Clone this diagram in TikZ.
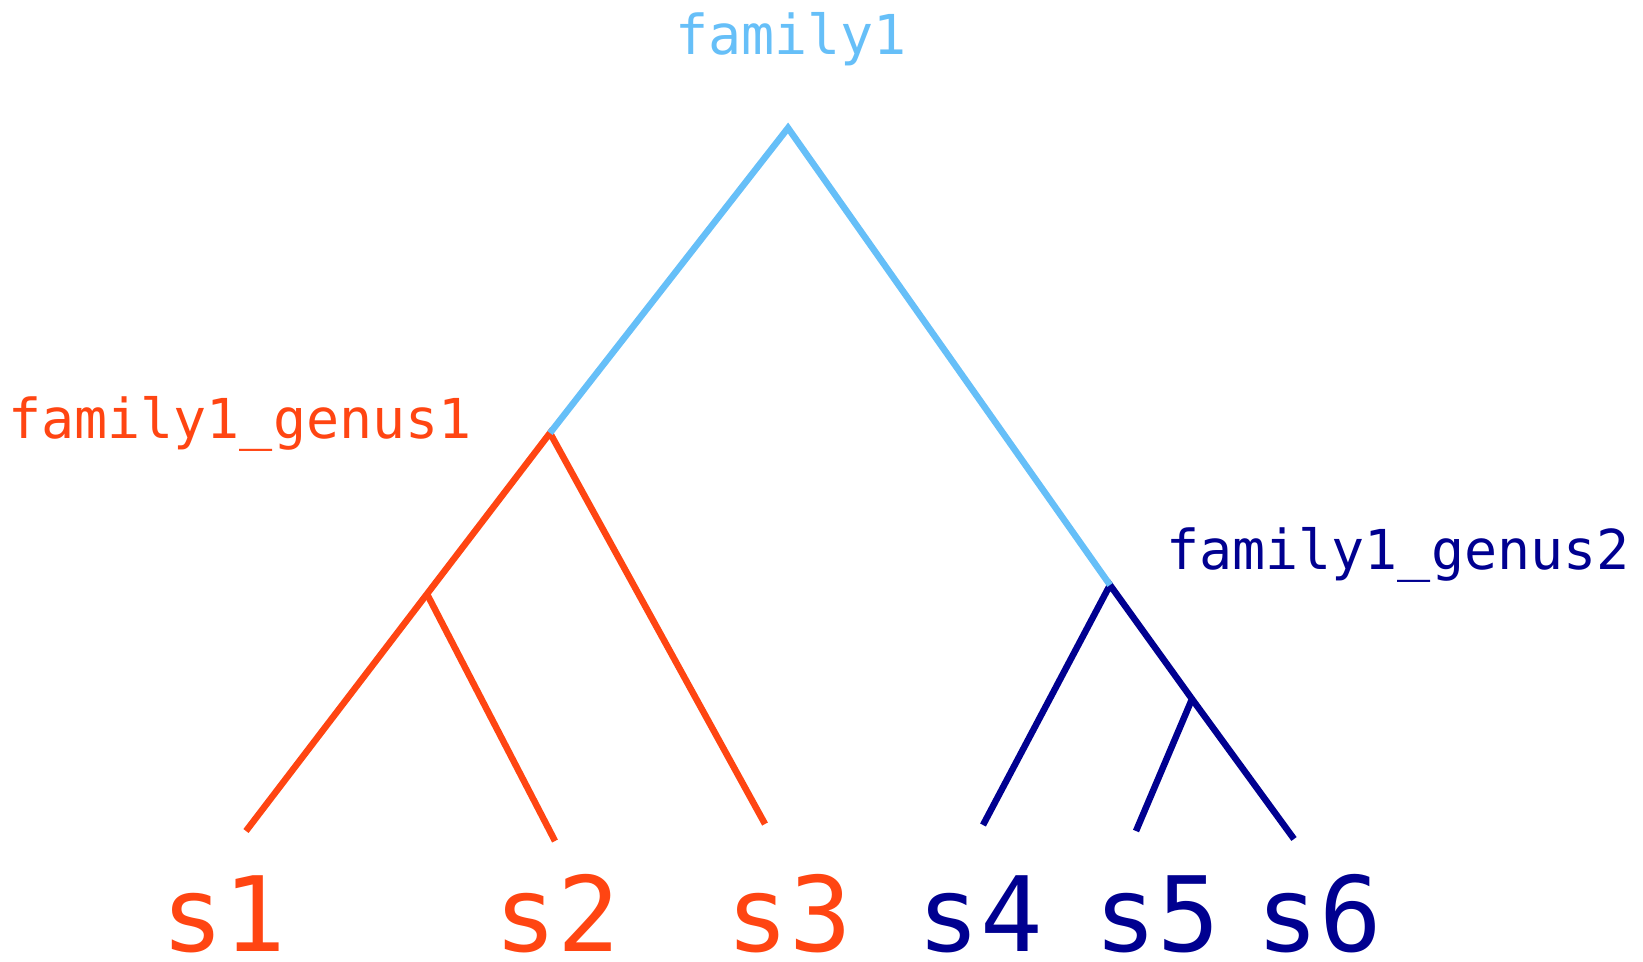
\documentclass[tikz,border=0pt]{standalone}
\usepackage{fontspec}
\setmonofont{DejaVu Sans Mono}
\definecolor{famblue}{HTML}{66BFF8}
\definecolor{genred}{HTML}{FF4512}
\definecolor{gendark}{HTML}{000090}
\begin{document}
\begin{tikzpicture}[x=1pt,y=-1pt,
  edge/.style={line width=6.5pt,line cap=butt,line join=miter},
  lbl/.style={inner sep=0pt,font=\ttfamily\fontsize{55}{60}\selectfont},
  leaf/.style={inner sep=0pt,anchor=base,font=\ttfamily\fontsize{104}{110}\selectfont}]
\useasboundingbox (0,0) rectangle (1643,961);
% tree points
\coordinate (root) at (788,128);
\coordinate (g1) at (550,433);
\coordinate (sub1) at (427,594);
\coordinate (g2) at (1110,585);
\coordinate (sub2) at (1192,699);
\coordinate (e1) at (246,831);
\coordinate (e2) at (555,841);
\coordinate (e3) at (765,824);
\coordinate (e4) at (983,825);
\coordinate (e5) at (1136,831);
\coordinate (e6) at (1294,839);
% labels
\node[lbl,anchor=base,text=famblue] (lfam) at (791,54) {family1};
\node[lbl,anchor=base west,text=genred] (lg1) at (8,438) {family1\_genus1};
\node[lbl,anchor=base west,text=gendark] (lg2) at (1166,569) {family1\_genus2};
\node[leaf,text=genred] (s1) at (224,951) {s1};
\node[leaf,text=genred] (s2) at (557,951) {s2};
\node[leaf,text=genred] (s3) at (789,951) {s3};
\node[leaf,text=gendark] (s4) at (980,951) {s4};
\node[leaf,text=gendark] (s5) at (1157,951) {s5};
\node[leaf,text=gendark] (s6) at (1319,951) {s6};
% edges
\draw[edge,genred] (e1) -- (sub1) -- (g1) -- (e3);
\draw[edge,genred] (sub1) -- (e2);
\draw[edge,gendark] (e4) -- (g2) -- (sub2) -- (e6);
\draw[edge,gendark] (sub2) -- (e5);
\draw[edge,famblue] (g1) -- (root) -- (g2);
\end{tikzpicture}
\end{document}
